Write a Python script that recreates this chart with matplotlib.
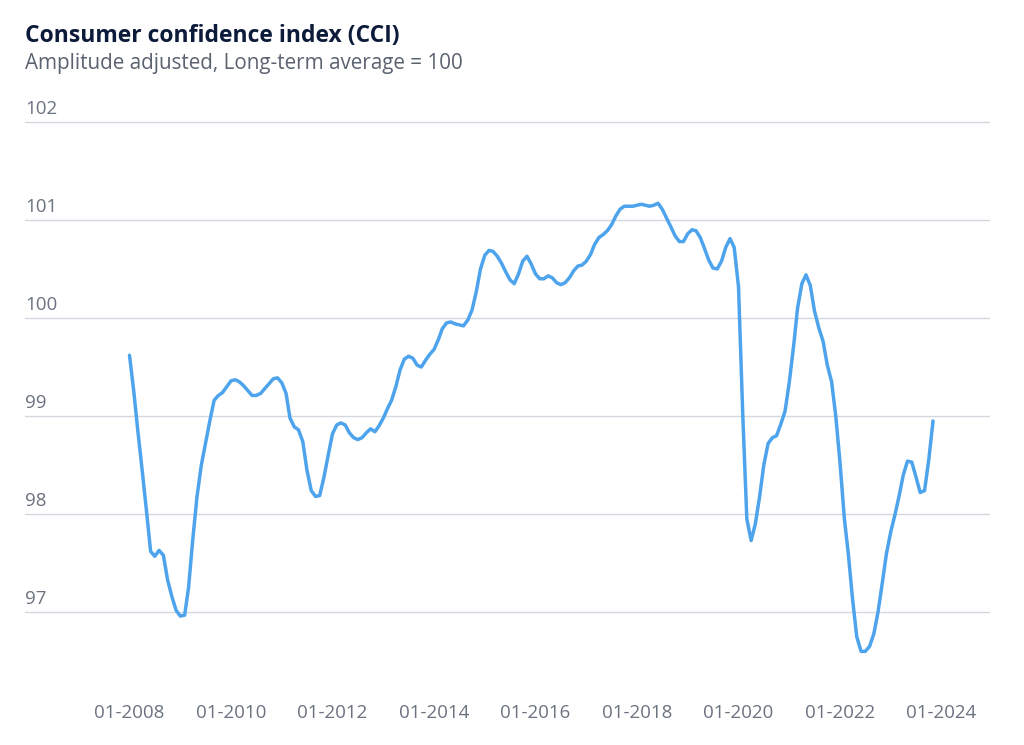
"""
plot.py - Consumer confidence index (CCI) line chart.

Monthly CCI values (amplitude adjusted, long-term average = 100),
January 2008 to November 2023, read off the reference picture.
"""

# ============================================================
# Section 1. Setup and Imports
# ============================================================
import matplotlib

matplotlib.use("Agg")

import matplotlib.dates as mdates
import matplotlib.pyplot as plt
import pandas as pd

plt.rcParams["font.family"] = ["Open Sans", "DejaVu Sans"]

# ============================================================
# Section 2. Data
# ============================================================

start_month: str = "2008-01-01"

# One value per month, starting January 2008.
cci_values: list[float] = [
    # 2008
    99.62, 99.25, 98.85, 98.45, 98.05, 97.62, 97.57, 97.63, 97.58, 97.33, 97.16, 97.02,
    # 2009
    96.96, 96.97, 97.25, 97.75, 98.18, 98.50, 98.72, 98.95, 99.16, 99.21, 99.24, 99.30,
    # 2010
    99.36, 99.37, 99.35, 99.31, 99.26, 99.21, 99.21, 99.23, 99.28, 99.33, 99.38, 99.39,
    # 2011
    99.34, 99.23, 98.98, 98.89, 98.86, 98.74, 98.45, 98.24, 98.18, 98.19, 98.38, 98.60,
    # 2012
    98.82, 98.91, 98.93, 98.91, 98.83, 98.78, 98.76, 98.78, 98.83, 98.87, 98.84, 98.90,
    # 2013
    98.98, 99.08, 99.16, 99.30, 99.47, 99.58, 99.61, 99.59, 99.52, 99.50, 99.57, 99.63,
    # 2014
    99.68, 99.78, 99.89, 99.95, 99.96, 99.94, 99.93, 99.92, 99.98, 100.08, 100.27, 100.50,
    # 2015
    100.64, 100.69, 100.68, 100.63, 100.56, 100.47, 100.39, 100.35, 100.45, 100.58, 100.63, 100.55,
    # 2016
    100.45, 100.40, 100.40, 100.43, 100.41, 100.36, 100.34, 100.36, 100.41, 100.48, 100.53, 100.54,
    # 2017
    100.58, 100.65, 100.75, 100.82, 100.85, 100.89, 100.95, 101.04, 101.11, 101.14, 101.14, 101.14,
    # 2018
    101.15, 101.16, 101.15, 101.14, 101.15, 101.17, 101.11, 101.02, 100.93, 100.84, 100.78, 100.78,
    # 2019
    100.86, 100.90, 100.89, 100.82, 100.71, 100.59, 100.51, 100.50, 100.58, 100.72, 100.81, 100.72,
    # 2020
    100.32, 99.00, 97.95, 97.73, 97.90, 98.18, 98.50, 98.72, 98.78, 98.80, 98.92, 99.05,
    # 2021
    99.35, 99.72, 100.10, 100.35, 100.44, 100.33, 100.07, 99.90, 99.76, 99.52, 99.35, 99.00,
    # 2022
    98.52, 97.95, 97.60, 97.13, 96.75, 96.60, 96.60, 96.65, 96.78, 97.00, 97.30, 97.60,
    # 2023
    97.82, 98.00, 98.18, 98.40, 98.54, 98.53, 98.38, 98.22, 98.24, 98.55, 98.95,
]

y_ticks: list[int] = [97, 98, 99, 100, 101, 102]
x_tick_years: list[int] = [2008, 2010, 2012, 2014, 2016, 2018, 2020, 2022, 2024]

title: str = "Consumer confidence index (CCI)"
subtitle: str = "Amplitude adjusted, Long-term average = 100"

# ============================================================
# Section 3. Colors
# ============================================================
LINE_COLOR = "#4ea4ec"
GRID_COLOR = "#d3d7de"
TITLE_COLOR = "#0d1b3a"
SUBTITLE_COLOR = "#5b6270"
TICK_COLOR = "#6b7280"

# ============================================================
# Section 4. Build the Chart
# ============================================================
months = pd.date_range(start_month, periods=len(cci_values), freq="MS")

fig = plt.figure(figsize=(10.24, 7.45), dpi=100)
ax = fig.add_axes([25 / 1024, 1 - 671 / 745, (990 - 25) / 1024, (671 - 117) / 745])

ax.plot(months, cci_values, color=LINE_COLOR, linewidth=2.5,
        solid_capstyle="round", solid_joinstyle="round", zorder=3)

ax.set_ylim(96.4, 102.05)
ax.set_xlim(pd.Timestamp("2005-12-10"), pd.Timestamp("2024-12-15"))

# Horizontal gridlines with the y labels sitting above them, left aligned.
ax.set_yticks(y_ticks)
ax.set_yticklabels([])
ax.tick_params(axis="y", length=0)
ax.grid(axis="y", color=GRID_COLOR, linewidth=1.0, zorder=0)
for value in y_ticks:
    ax.annotate(str(value), xy=(0, value), xycoords=ax.get_yaxis_transform(),
                xytext=(0, 4), textcoords="offset pixels",
                ha="left", va="bottom", fontsize=13.5, color=TICK_COLOR)

# X axis: January of every second year.
ax.set_xticks([pd.Timestamp(f"{year}-01-01") for year in x_tick_years])
ax.xaxis.set_major_formatter(mdates.DateFormatter("%m-%Y"))
ax.tick_params(axis="x", length=0, pad=24, labelsize=13.5, labelcolor=TICK_COLOR)

for spine in ax.spines.values():
    spine.set_visible(False)

# Title and subtitle
fig.text(25 / 1024, 1 - 36 / 745, title, ha="left", va="center",
         fontsize=16.5, fontweight="bold", color=TITLE_COLOR)
fig.text(25 / 1024, 1 - 63 / 745, subtitle, ha="left", va="center",
         fontsize=14.9, color=SUBTITLE_COLOR)

fig.savefig("out.png", dpi=100)
